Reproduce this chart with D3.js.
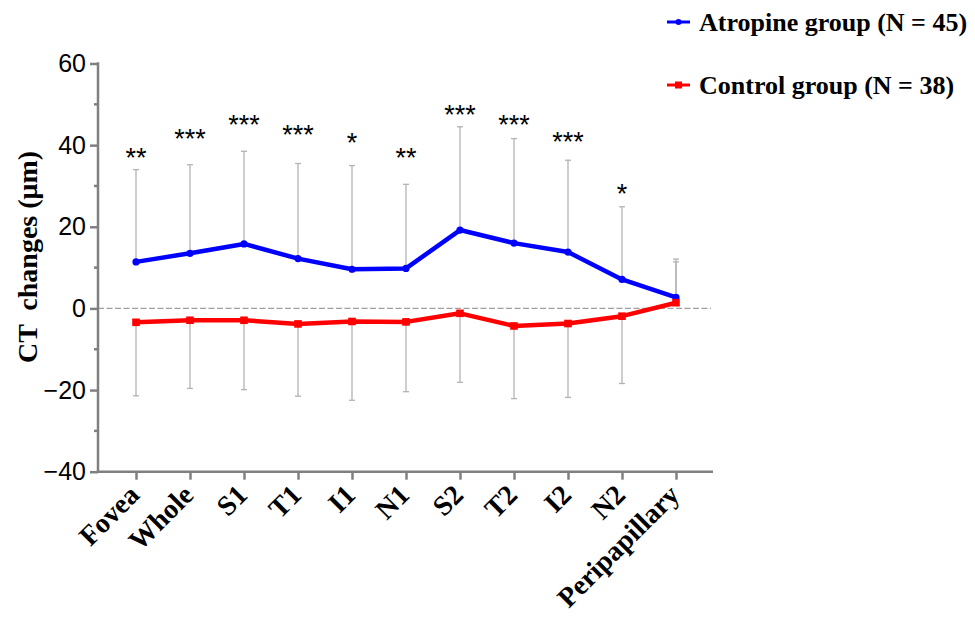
<!DOCTYPE html>
<html>
<head>
<meta charset="utf-8">
<script src="https://cdn.jsdelivr.net/npm/d3@7"></script>
<style>
  html, body { margin: 0; padding: 0; background: #fff; }
  svg { display: block; }
</style>
</head>
<body>
<svg id="chart" width="975" height="620"></svg>
<script>
// Retinal regions measured
const regions = ["Fovea", "Whole", "S1", "T1", "I1", "N1", "S2", "T2", "I2", "N2", "Peripapillary"];

// Mean CT change (µm) and SD per group
const atropineMean = [11.4, 13.5, 15.8, 12.2, 9.6, 9.8, 19.2, 16.0, 13.8, 7.1, 2.7];
const atropineSD   = [22.6, 21.7, 22.7, 23.3, 25.4, 20.6, 25.3, 25.6, 22.5, 17.8, 9.4];
const controlMean  = [-3.4, -2.9, -2.9, -3.8, -3.2, -3.3, -1.2, -4.3, -3.7, -1.9, 1.4];
const controlSD    = [18.0, 16.7, 17.0, 17.7, 19.3, 17.1, 16.9, 17.8, 18.1, 16.5, 10.0];

// Between-group significance marks and the height (µm) they sit at
const sigMarks  = ["**", "***", "***", "***", "*", "**", "***", "***", "***", "*", ""];
const sigHeight = [38.2, 43.0, 46.5, 43.9, 42.0, 38.4, 48.8, 46.5, 42.2, 29.4, 0];

// Axis ticks
const yMajorTicks = [-40, -20, 0, 20, 40, 60];
const yMinorTicks = [-30, -10, 10, 30, 50];

const groups = [
  { name: "Atropine group (N = 45)", mean: atropineMean, sd: atropineSD, color: "#0000ff", marker: "circle" },
  { name: "Control group (N = 38)",  mean: controlMean,  sd: controlSD,  color: "#ff0000", marker: "square" }
];

const svg = d3.select("#chart");
const axisColor = "#808080";

const xLeft = 98, xRight = 713;
const y = d3.scaleLinear().domain([-40, 60]).range([471.7, 63.5]);
const x = d3.scalePoint().domain(regions).range([136, 676]);

// Zero reference line
svg.append("line")
  .attr("x1", xLeft).attr("x2", xRight - 2)
  .attr("y1", y(0)).attr("y2", y(0))
  .attr("stroke", "#a0a0a0").attr("stroke-width", 1.3)
  .attr("stroke-dasharray", "6,2.5");

// Y axis
const yAxis = d3.axisLeft(y).tickValues(yMajorTicks).tickSize(8).tickPadding(4)
  .tickFormat(d => d < 0 ? "\u2212" + Math.abs(d) : d);
const yG = svg.append("g").attr("transform", `translate(${xLeft},0)`).call(yAxis);
yG.select(".domain").remove();
yG.selectAll(".tick line").attr("stroke", axisColor).attr("stroke-width", 2.5);
yG.selectAll(".tick text")
  .attr("font-family", "Liberation Sans, Arial, sans-serif")
  .attr("font-size", 25).attr("fill", "#000");
yG.selectAll(".minor").data(yMinorTicks).enter().append("line")
  .attr("x1", -4).attr("x2", 0)
  .attr("y1", d => y(d)).attr("y2", d => y(d))
  .attr("stroke", axisColor).attr("stroke-width", 2.5);
svg.append("line")
  .attr("x1", xLeft).attr("x2", xLeft)
  .attr("y1", y(60) - 1.2).attr("y2", y(-40) + 1.2)
  .attr("stroke", axisColor).attr("stroke-width", 2.5);

// X axis
const xAxis = d3.axisBottom(x).tickSize(8).tickFormat("");
const xG = svg.append("g").attr("transform", `translate(0,${y(-40)})`).call(xAxis);
xG.select(".domain").remove();
xG.selectAll(".tick line").attr("stroke", axisColor).attr("stroke-width", 2.5);
svg.append("line")
  .attr("x1", xLeft).attr("x2", xRight)
  .attr("y1", y(-40)).attr("y2", y(-40))
  .attr("stroke", axisColor).attr("stroke-width", 2.5);

// Rotated category labels
svg.append("g").selectAll("text").data(regions).enter().append("text")
  .attr("transform", d => `translate(${x(d) + 5},${y(-40) + 25}) rotate(-45)`)
  .attr("text-anchor", "end")
  .attr("font-family", "Liberation Serif, Times New Roman, serif")
  .attr("font-weight", "bold").attr("font-size", 28).attr("fill", "#000")
  .text(d => d);

// Y axis title
svg.append("text")
  .attr("transform", `translate(37,257) rotate(-90)`)
  .attr("text-anchor", "middle")
  .attr("font-family", "Liberation Serif, Times New Roman, serif")
  .attr("font-weight", "bold").attr("font-size", 28).attr("fill", "#000")
  .style("white-space", "pre")
  .text("CT  changes (\u03bcm)");

// Error bars: drawn away from zero, one side only
groups.forEach(g => {
  const eg = svg.append("g").attr("class", "errbars");
  regions.forEach((r, i) => {
    const m = g.mean[i];
    const end = m >= 0 ? m + g.sd[i] : m - g.sd[i];
    eg.append("line")
      .attr("x1", x(r)).attr("x2", x(r))
      .attr("y1", y(m)).attr("y2", y(end))
      .attr("stroke", "#b3b3b3").attr("stroke-width", 1.3);
    eg.append("line")
      .attr("x1", x(r) - 3).attr("x2", x(r) + 3)
      .attr("y1", y(end)).attr("y2", y(end))
      .attr("stroke", "#b3b3b3").attr("stroke-width", 1.3);
  });
});

// Mean lines with markers
const line = d3.line().x((d, i) => x(regions[i])).y(d => y(d));
groups.forEach(g => {
  svg.append("path").datum(g.mean)
    .attr("d", line).attr("fill", "none")
    .attr("stroke", g.color).attr("stroke-width", 4.5)
    .attr("stroke-linejoin", "round");
  const mg = svg.append("g");
  if (g.marker === "circle") {
    mg.selectAll("circle").data(g.mean).enter().append("circle")
      .attr("cx", (d, i) => x(regions[i])).attr("cy", d => y(d))
      .attr("r", 3.6).attr("fill", g.color);
  } else {
    mg.selectAll("rect").data(g.mean).enter().append("rect")
      .attr("x", (d, i) => x(regions[i]) - 3.8).attr("y", d => y(d) - 3.8)
      .attr("width", 7.6).attr("height", 7.6).attr("fill", g.color);
  }
});

// Significance asterisks
svg.append("g").selectAll("text").data(sigMarks).enter().append("text")
  .attr("x", (d, i) => x(regions[i]))
  .attr("y", (d, i) => y(sigHeight[i]) + 15)
  .attr("text-anchor", "middle")
  .attr("font-family", "Liberation Sans, Arial, sans-serif")
  .attr("font-size", 27).attr("fill", "#000")
  .text(d => d);

// Legend
const legendRows = [
  { g: groups[0], y: 22 },
  { g: groups[1], y: 85 }
];
const lg = svg.append("g");
legendRows.forEach(row => {
  lg.append("line")
    .attr("x1", 667).attr("x2", 690).attr("y1", row.y).attr("y2", row.y)
    .attr("stroke", row.g.color).attr("stroke-width", 3);
  if (row.g.marker === "circle") {
    lg.append("circle").attr("cx", 678.5).attr("cy", row.y).attr("r", 3).attr("fill", row.g.color);
  } else {
    lg.append("rect").attr("x", 675).attr("y", row.y - 3.5).attr("width", 7).attr("height", 7).attr("fill", row.g.color);
  }
  lg.append("text")
    .attr("x", 699).attr("y", row.y + 9)
    .attr("font-family", "Liberation Serif, Times New Roman, serif")
    .attr("font-weight", "bold").attr("font-size", 26).attr("fill", "#000")
    .text(row.g.name);
});
</script>
</body>
</html>
